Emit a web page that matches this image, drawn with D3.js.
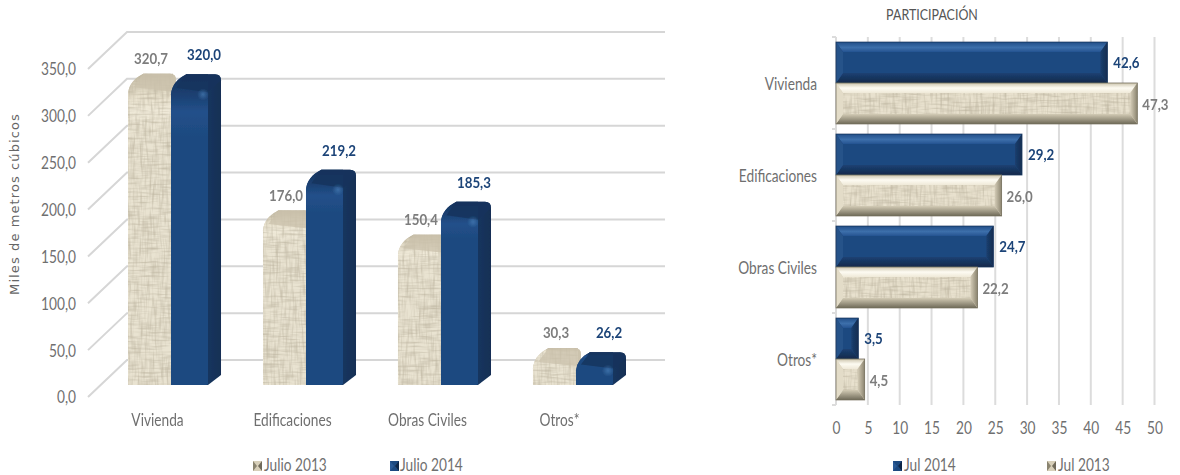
<!DOCTYPE html>
<html><head><meta charset="utf-8">
<script src="https://cdn.jsdelivr.net/npm/d3@7"></script>
<style>
html,body{margin:0;padding:0;background:#fff;overflow:hidden}
text{font-family:Lato,"Liberation Sans",sans-serif}
</style></head><body><svg id="c" width="1180" height="475"></svg>
<script>
const categories=["Vivienda","Edificaciones","Obras Civiles","Otros*"];
const julio2013=[320.7,176.0,150.4,30.3];
const julio2014=[320.0,219.2,185.3,26.2];
const part2014=[42.6,29.2,24.7,3.5];
const part2013=[47.3,26.0,22.2,4.5];
const leftTicks=[0,50,100,150,200,250,300,350];
const rightTicks=[0,5,10,15,20,25,30,35,40,45,50];
const fmt=v=>d3.format(".1f")(v).replace(".",",");
const GREY="#7d7d7d",LABEL="#6f6f6f",NAVY="#1c4478";

const svg=d3.select("#c");
const defs=svg.append("defs");
function grad(id,x2,y2,stops){
  const g=defs.append("linearGradient").attr("id",id).attr("x1",0).attr("y1",0).attr("x2",x2).attr("y2",y2);
  stops.forEach(([o,c])=>g.append("stop").attr("offset",o).attr("stop-color",c));
}
grad("sideBlue",1,0,[[0,"#1d4478"],[.45,"#193c69"],[1,"#122f55"]]);
grad("frontBlueV",0,1,[[0,"#13315a"],[.07,"#1c4173"],[.12,"#22508a"],[.2,"#1e4a80"],[1,"#1e4a80"]]);
grad("frontBeigeV",0,1,[[0,"#c3baa3"],[.07,"#e8e1cd"],[.12,"#efe9d8"],[.2,"#e9e3d1"],[1,"#e9e3d1"]]);
grad("topBlue",0,1,[[0,"#234f88"],[.55,"#3c6fab"],[1,"#255390"]]);
grad("topBeige",0,1,[[0,"#cdc5ae"],[.5,"#fdfbf2"],[1,"#efe9d8"]]);
grad("botBlue",0,1,[[0,"#1c4173"],[1,"#11294a"]]);
grad("botBeige",0,1,[[0,"#d3cbb5"],[1,"#6f6a58"]]);
grad("rightBlue",1,0,[[0,"#1b3f6f"],[1,"#122c50"]]);
grad("rightBeige",1,0,[[0,"#d5cdb8"],[1,"#8b846f"]]);
defs.append("radialGradient").attr("id","spot").call(g=>{
  g.append("stop").attr("offset",0).attr("stop-color","#4d86c0").attr("stop-opacity",.6);
  g.append("stop").attr("offset",1).attr("stop-color","#4d86c0").attr("stop-opacity",0);
});
const tex=defs.append("filter").attr("id","burlap").attr("x",0).attr("y",0).attr("width",1).attr("height",1);
tex.append("feTurbulence").attr("type","fractalNoise").attr("baseFrequency","0.42 0.05").attr("numOctaves",2).attr("seed",7).attr("result","a");
tex.append("feColorMatrix").attr("in","a").attr("type","matrix").attr("values","0 0 0 0 .5  0 0 0 0 .45  0 0 0 0 .34  1.5 0 0 0 -.62").attr("result","va");
tex.append("feTurbulence").attr("type","fractalNoise").attr("baseFrequency","0.05 0.5").attr("numOctaves",2).attr("seed",3).attr("result","b");
tex.append("feColorMatrix").attr("in","b").attr("type","matrix").attr("values","0 0 0 0 .5  0 0 0 0 .45  0 0 0 0 .34  1.5 0 0 0 -.62").attr("result","ha");
tex.append("feMerge").attr("result","d").call(m=>{m.append("feMergeNode").attr("in","va");m.append("feMergeNode").attr("in","ha");});
tex.append("feComposite").attr("in","d").attr("in2","SourceAlpha").attr("operator","in").attr("result","dc");
tex.append("feMerge").call(m=>{m.append("feMergeNode").attr("in","SourceGraphic");m.append("feMergeNode").attr("in","dc");});
defs.append("filter").attr("id","soft").append("feGaussianBlur").attr("stdDeviation",.5);

/* LEFT CHART */
const yFront=d3.scaleLinear().domain([0,350]).range([397,69]);
const yBack=d3.scaleLinear().domain([0,350]).range([360,32]);
const yBar=d3.scaleLinear().domain([0,350]).range([377,46]);
const BASE=385,FRONT_X=88,BACK_X=127,END_X=665;
const x0=d3.scaleBand().domain(categories).range([128,626]).paddingInner(.311).paddingOuter(0);

const grid=svg.append("g").attr("filter","url(#soft)").attr("fill","none").attr("stroke","#d6d6d6").attr("stroke-width",2);
leftTicks.forEach(t=>{
  grid.append("path").attr("d",d3.line()([[FRONT_X,yFront(t)],[BACK_X,yBack(t)],[END_X,yBack(t)]]));
});
const axL=svg.append("g").attr("transform","translate(76,0)").call(d3.axisLeft(yFront).tickValues(leftTicks).tickSize(0).tickPadding(0).tickFormat(fmt));
axL.select(".domain").remove();
axL.selectAll("text").attr("fill",LABEL).attr("font-size",16.5).attr("dy","0.36em").classed("nar",true);

svg.append("text").attr("transform","translate(19,204) rotate(-90)").attr("text-anchor","middle")
  .style("font-family","'DejaVu Sans'").attr("font-size",13).attr("letter-spacing",1.1).attr("fill","#666").text("Miles de metros cúbicos");

function column(g,x,w,side,top,isBlue){
  const h=BASE-top,R=Math.min(18,h*.5),r=6,fw=w-side;
  const pre=isBlue?"Blue":"Beige";
  const bevelBottom=isBlue?10:0;
  const outline=`M${x},${BASE} L${x},${top+R+2} Q${x+1},${top+R*.4} ${x+R*.85},${top} L${x+w-r},${top} Q${x+w},${top} ${x+w},${top+r} L${x+w},${BASE-bevelBottom} L${x+fw},${BASE} Z`;
  g.append("path").attr("d",outline).attr("fill",isBlue?"url(#sideBlue)":"#cfc6b0");
  const face=`M${x},${BASE} L${x},${top+R+2} Q${x+1},${top+R*.4} ${x+R*.85},${top} L${x+fw},${top} Q${x+fw},${top+R*.5} ${x+fw},${top+R} L${x+fw},${BASE-1} Q${x+fw},${BASE} ${x+fw-3},${BASE} Z`;
  g.append("path").attr("d",face).attr("fill",`url(#front${pre}V)`).attr("filter",isBlue?null:"url(#burlap)");
  const cap=`M${x+R*.85},${top} L${x+w-r},${top} Q${x+w},${top} ${x+w},${top+r} L${x+fw},${top+R} L${x+R*.3},${top+R*.75} Z`;
  if(isBlue){
    g.append("path").attr("d",cap).attr("fill","#14335c").attr("opacity",.8);
    g.append("circle").attr("cx",x+fw-5).attr("cy",top+R+2).attr("r",6).attr("fill","url(#spot)");
  } else {
    g.append("path").attr("d",cap).attr("fill","#cbc2ac").attr("opacity",.75);
  }
}
const barsL=svg.append("g").attr("filter","url(#soft)");
categories.forEach((c,i)=>{
  const g=barsL.append("g");
  const bx=x0(c),bw=x0.bandwidth();
  column(g,bx,48,3,yBar(julio2013[i]),false);
  column(g,bx+43,bw-43,13,yBar(julio2014[i]),true);
  svg.append("text").attr("class","nar").attr("x",bx+23).attr("y",yBar(julio2013[i])-10).attr("text-anchor","middle")
    .attr("font-size",16).attr("font-weight",700).attr("fill",GREY).text(fmt(julio2013[i]));
  svg.append("text").attr("class","nar").attr("x",bx+76).attr("y",yBar(julio2014[i])-14).attr("text-anchor","middle")
    .attr("font-size",16).attr("font-weight",700).attr("fill",NAVY).text(fmt(julio2014[i]));
  svg.append("text").attr("class","nar").attr("x",bx+bw/2-(i==3?20:17)).attr("y",426).attr("text-anchor","middle")
    .attr("font-size",16.5).attr("fill",LABEL).text(c);
});

function swatch(x,y,isBlue){
  const s=svg.append("g").attr("filter","url(#soft)");
  s.append("rect").attr("x",x).attr("y",y).attr("width",9).attr("height",10).attr("fill",isBlue?"#1f4a80":"#d8d0ba");
  s.append("path").attr("d",`M${x+9},${y} L${x+5},${y+5} L${x+9},${y+10} Z`).attr("fill",isBlue?"#0f2747":"#6f6a5a");
  s.append("path").attr("d",`M${x},${y} L${x+4},${y+5} L${x},${y+10} Z`).attr("fill",isBlue?"#2a5a96":"#8a8470");
}
function legend(x,tx,label,isBlue){
  swatch(x,461,isBlue);
  svg.append("text").attr("class","nar").attr("x",tx).attr("y",471).attr("font-size",16.5).attr("fill",LABEL).text(label);
}
legend(253,264,"Julio 2013",false);
legend(390,400,"Julio 2014",true);

/* RIGHT CHART */
const xR=d3.scaleLinear().domain([0,50]).range([836,1154.5]);
const yR=d3.scaleBand().domain(categories).range([37,405]).paddingInner(.11).paddingOuter(.055);
const yIn=d3.scaleBand().domain(["a","b"]).range([0,yR.bandwidth()]);

const gridR=svg.append("g").attr("filter","url(#soft)").attr("stroke","#dcdcdc").attr("stroke-width",2);
rightTicks.slice(1).forEach(t=>gridR.append("line").attr("x1",xR(t)).attr("x2",xR(t)).attr("y1",37).attr("y2",405));
const tickYs=[37,...categories.map((c,i)=>i==3?405:yR(c)+yR.step()-yR.step()*yR.paddingInner()/2)];
gridR.append("line").attr("x1",836).attr("x2",836).attr("y1",37).attr("y2",405);
tickYs.forEach(y=>gridR.append("line").attr("x1",832).attr("x2",836).attr("y1",y).attr("y2",y));

const axB=svg.append("g").attr("transform","translate(0,422)").call(d3.axisBottom(xR).tickValues(rightTicks).tickSize(0).tickPadding(0).tickFormat(d=>d));
axB.select(".domain").remove();
axB.selectAll("text").attr("fill",LABEL).attr("font-size",16.5).classed("nar",true);
const axR=svg.append("g").attr("transform","translate(817,0)").call(d3.axisLeft(yR).tickSize(0).tickPadding(0));
axR.select(".domain").remove();
axR.selectAll("text").attr("fill",LABEL).attr("font-size",16.5).attr("dy","0.4em").classed("nar",true);

svg.append("text").attr("class","nar").attr("x",932).attr("y",20).attr("text-anchor","middle").attr("font-size",15).attr("fill","#555").text("PARTICIPACIÓN");

function hbar(g,x,y,w,h,isBlue){
  const b=Math.min(10,w/2),s=Math.min(7,w/2),x1=x+w,y1=y+h;
  const c=isBlue?{top:"url(#topBlue)",left:"#275289",right:"url(#rightBlue)",bot:"url(#botBlue)",face:"#1f4a80",edge:"#17375e"}
                :{top:"url(#topBeige)",left:"#e3dcc8",right:"url(#rightBeige)",bot:"url(#botBeige)",face:"#e8e1ce",edge:"#75705e"};
  g.append("rect").attr("x",x).attr("y",y).attr("width",w).attr("height",h).attr("fill",c.face).attr("filter",isBlue?null:"url(#burlap)");
  g.append("path").attr("fill",c.top).attr("d",`M${x},${y}L${x1},${y}L${x1-s},${y+b}L${x+s},${y+b}Z`);
  g.append("path").attr("fill",c.bot).attr("d",`M${x},${y1}L${x1},${y1}L${x1-s},${y1-b}L${x+s},${y1-b}Z`);
  g.append("path").attr("fill",c.left).attr("d",`M${x},${y}L${x+s},${y+b}L${x+s},${y1-b}L${x},${y1}Z`);
  g.append("path").attr("fill",c.right).attr("d",`M${x1},${y}L${x1-s},${y+b}L${x1-s},${y1-b}L${x1},${y1}Z`);
  g.append("rect").attr("x",x).attr("y",y).attr("width",w).attr("height",h).attr("fill","none").attr("stroke",c.edge).attr("stroke-width",.8);
}
const barsR=svg.append("g").attr("filter","url(#soft)");
categories.forEach((c,i)=>{
  const y=yR(c),h=yIn.bandwidth();
  hbar(barsR,xR(0),y,xR(part2014[i])-xR(0),h,true);
  hbar(barsR,xR(0),y+h,xR(part2013[i])-xR(0),h,false);
  svg.append("text").attr("class","nar").attr("x",xR(part2014[i])+6).attr("y",y+h/2+1+4).attr("font-size",16).attr("font-weight",700).attr("fill",NAVY).text(fmt(part2014[i]));
  svg.append("text").attr("class","nar").attr("x",xR(part2013[i])+5).attr("y",y+h+h/2+1+6).attr("font-size",16).attr("font-weight",700).attr("fill",GREY).text(fmt(part2013[i]));
});
legend(893,904,"Jul 2014",true);
legend(1047,1058,"Jul 2013",false);

/* Condense the labels, as the reference's narrow face */
svg.selectAll("text.nar").each(function(){
  const len=this.getComputedTextLength();
  d3.select(this).attr("textLength",len*.83).attr("lengthAdjust","spacingAndGlyphs");
});
</script></body></html>
